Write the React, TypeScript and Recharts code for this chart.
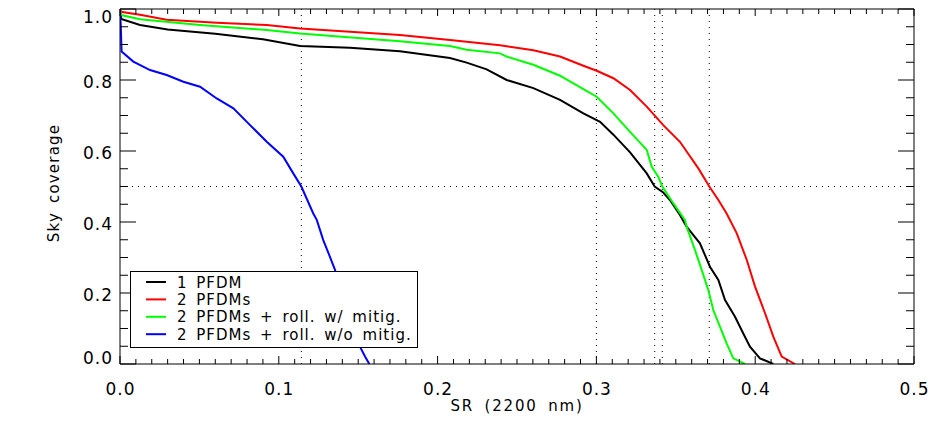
import React from 'react';
import { LineChart, Line, XAxis, YAxis, ReferenceLine, Legend } from 'recharts';

// [SR (2200 nm), sky coverage]
const onePfdm: [number, number][] = [
  [0, 1.0], [0.0008, 0.972], [0.0126, 0.955], [0.03, 0.942], [0.06, 0.93], [0.09, 0.915],
  [0.1134, 0.896], [0.1448, 0.891], [0.1763, 0.881], [0.2078, 0.862], [0.2183, 0.849],
  [0.2309, 0.83], [0.2435, 0.8], [0.2603, 0.777], [0.2771, 0.744], [0.2918, 0.706],
  [0.3023, 0.682], [0.3107, 0.646], [0.3212, 0.596], [0.3317, 0.537], [0.3367, 0.5],
  [0.3421, 0.483], [0.3463, 0.462], [0.3526, 0.42], [0.3568, 0.387], [0.3652, 0.34],
  [0.3715, 0.274], [0.3768, 0.237], [0.381, 0.18], [0.3873, 0.133], [0.3925, 0.086],
  [0.3967, 0.049], [0.403, 0.016], [0.4114, 0],
];
const twoPfdms: [number, number][] = [
  [0, 1.0], [0.0005, 0.992], [0.0126, 0.984], [0.0294, 0.97], [0.0609, 0.961], [0.0924, 0.955],
  [0.1134, 0.945], [0.1763, 0.927], [0.2078, 0.913], [0.2393, 0.898], [0.2603, 0.884],
  [0.2771, 0.866], [0.2918, 0.84], [0.3002, 0.826], [0.3107, 0.805], [0.3212, 0.772],
  [0.3317, 0.725], [0.3421, 0.673], [0.3526, 0.626], [0.3642, 0.551], [0.3711, 0.5],
  [0.3768, 0.462], [0.382, 0.424], [0.3884, 0.368], [0.3947, 0.293], [0.3999, 0.218],
  [0.4062, 0.143], [0.4114, 0.077], [0.4167, 0.021], [0.425, 0],
];
const rollMitig: [number, number][] = [
  [0, 0.995], [0.0008, 0.983], [0.0126, 0.971], [0.0504, 0.955], [0.0924, 0.941], [0.1134, 0.931],
  [0.1763, 0.909], [0.2078, 0.896], [0.2183, 0.885], [0.2393, 0.875], [0.2435, 0.866],
  [0.2603, 0.843], [0.2771, 0.812], [0.2918, 0.774], [0.3002, 0.753], [0.3107, 0.706],
  [0.3212, 0.654], [0.3317, 0.603], [0.3348, 0.556], [0.339, 0.527], [0.3415, 0.5],
  [0.3484, 0.453], [0.3558, 0.405], [0.3568, 0.387], [0.3621, 0.321], [0.3663, 0.265],
  [0.3705, 0.208], [0.3736, 0.152], [0.3778, 0.105], [0.382, 0.058], [0.3862, 0.016], [0.3936, 0],
];
const rollNoMitig: [number, number][] = [
  [0, 1.0], [0.0005, 0.95], [0.001, 0.88], [0.0084, 0.852], [0.0189, 0.828], [0.0294, 0.814],
  [0.0399, 0.795], [0.0504, 0.781], [0.0609, 0.748], [0.0714, 0.72], [0.0819, 0.673],
  [0.0924, 0.626], [0.1028, 0.584], [0.1091, 0.537], [0.1142, 0.5], [0.1217, 0.424],
  [0.1239, 0.406], [0.128, 0.349], [0.1322, 0.302], [0.1354, 0.265], [0.1435, 0.15],
  [0.1511, 0.049], [0.1543, 0.021], [0.157, 0],
];

const seriesNames = ['1 PFDM', '2 PFDMs', '2 PFDMs + roll. w/ mitig.', '2 PFDMs + roll. w/o mitig.'];
const seriesColors = ['#000000', '#ff0000', '#00ff00', '#0000ff'];
const seriesData = [onePfdm, twoPfdms, rollMitig, rollNoMitig];

const crossingSR = [0.1142, 0.3, 0.3367, 0.3415, 0.3711];
const crossingCov = [0.5];

const xTicks = Array.from({ length: 51 }, (_, i) => i / 100);
const yTicks = Array.from({ length: 21 }, (_, i) => i / 20);

const FONT = "'DejaVu Sans', sans-serif";

const isMajorX = (v: number) => Math.abs(v * 10 - Math.round(v * 10)) < 1e-6;
const isMajorY = (v: number) => Math.abs(v * 5 - Math.round(v * 5)) < 1e-6;

const BottomTick = (props: any) => {
  const { x, y, payload } = props;
  const v = payload.value;
  const major = isMajorX(v);
  return (
    <g>
      <line x1={x} x2={x} y1={y} y2={y - (major ? 8 : 5)} stroke="#000" strokeWidth={1} />
      {major && (
        <text x={x + 0.5} y={y + 31} textAnchor="middle" fontFamily={FONT} fontSize={17} letterSpacing={1} fill="#000">
          {v.toFixed(1)}
        </text>
      )}
    </g>
  );
};

const TopTick = (props: any) => {
  const { x, y, payload } = props;
  const major = isMajorX(payload.value);
  return <line x1={x} x2={x} y1={y} y2={y + (major ? 7 : 5)} stroke="#000" strokeWidth={1} />;
};

const LeftTick = (props: any) => {
  const { x, y, payload } = props;
  const v = payload.value;
  const major = isMajorY(v);
  let dy = 8;
  if (v > 0.999) dy = 14;
  if (v < 0.001) dy = -0.5;
  return (
    <g>
      <line x1={x} x2={x + (major ? 16 : 8)} y1={y} y2={y} stroke="#000" strokeWidth={1} />
      {major && (
        <text x={x - 7} y={y + dy} textAnchor="end" fontFamily={FONT} fontSize={17} letterSpacing={1} fill="#000">
          {v.toFixed(1)}
        </text>
      )}
    </g>
  );
};

const RightTick = (props: any) => {
  const { x, y, payload } = props;
  const major = isMajorY(payload.value);
  return <line x1={x} x2={x - (major ? 16 : 8)} y1={y} y2={y} stroke="#000" strokeWidth={1} />;
};

const XTitle = (props: any) => {
  const { viewBox } = props;
  const cx = viewBox.x + viewBox.width / 2;
  return (
    <text x={cx} y={viewBox.y + 47} textAnchor="middle" fontFamily={FONT} fontSize={15} letterSpacing={1.8} wordSpacing={4} fill="#000">
      SR (2200 nm)
    </text>
  );
};

const YTitle = () => {
  const cx = 51;
  const cy = 175;
  return (
    <text x={cx} y={cy} transform={`rotate(-90, ${cx}, ${cy})`} textAnchor="middle" fontFamily={FONT} fontSize={15} letterSpacing={1.2} wordSpacing={3} fill="#000">
      Sky coverage
    </text>
  );
};

const LegendBox = () => (
  <svg width={288} height={77} style={{ display: 'block' }}>
    <rect x={0.5} y={0.5} width={287} height={76} fill="#ffffff" stroke="#000" strokeWidth={1} />
    {seriesNames.map((name, i) => {
      const cy = 11 + i * 17.4;
      return (
        <g key={name}>
          <line x1={16} x2={36} y1={cy} y2={cy} stroke={seriesColors[i]} strokeWidth={2} />
          <text x={47} y={cy + 5.5} fontFamily={FONT} fontSize={15} letterSpacing={1} wordSpacing={3} fill="#000">
            {name}
          </text>
        </g>
      );
    })}
  </svg>
);

export default function App() {
  return (
    <LineChart width={942} height={422} margin={{ top: 0, right: 26, left: 52, bottom: 36 }}>
      <XAxis
        xAxisId="bottom"
        type="number"
        dataKey="sr"
        domain={[0, 0.5]}
        ticks={xTicks}
        interval={0}
        allowDataOverflow
        height={30}
        tickSize={0}
        tickMargin={0}
        tickLine={false}
        axisLine={{ stroke: '#000', strokeWidth: 1 }}
        tick={<BottomTick />}
        label={<XTitle />}
      />
      <XAxis
        xAxisId="top"
        orientation="top"
        type="number"
        dataKey="sr"
        domain={[0, 0.5]}
        ticks={xTicks}
        interval={0}
        allowDataOverflow
        height={1}
        tickSize={0}
        tickMargin={0}
        tickLine={false}
        axisLine={{ stroke: '#000', strokeWidth: 1 }}
        tick={<TopTick />}
      />
      <YAxis
        yAxisId="left"
        type="number"
        domain={[0, 1]}
        ticks={yTicks}
        interval={0}
        allowDataOverflow
        width={60}
        tickSize={0}
        tickMargin={0}
        tickLine={false}
        axisLine={{ stroke: '#000', strokeWidth: 1 }}
        tick={<LeftTick />}
        label={<YTitle />}
      />
      <YAxis
        yAxisId="right"
        orientation="right"
        type="number"
        domain={[0, 1]}
        ticks={yTicks}
        interval={0}
        allowDataOverflow
        width={10}
        tickSize={0}
        tickMargin={0}
        tickLine={false}
        axisLine={{ stroke: '#000', strokeWidth: 1 }}
        tick={<RightTick />}
      />
      {crossingSR.map((v) => (
        <ReferenceLine key={`x${v}`} x={v} xAxisId="bottom" yAxisId="left" stroke="#000" strokeWidth={1} strokeDasharray="1 5" />
      ))}
      {crossingCov.map((v) => (
        <ReferenceLine key={`y${v}`} y={v} xAxisId="bottom" yAxisId="left" stroke="#000" strokeWidth={1} strokeDasharray="1 5" />
      ))}
      {seriesNames.map((name, i) => (
        <Line
          key={name}
          name={name}
          xAxisId="bottom"
          yAxisId="left"
          data={seriesData[i].map(([sr, cov]) => ({ sr, cov }))}
          dataKey="cov"
          type="linear"
          stroke={seriesColors[i]}
          strokeWidth={2}
          dot={false}
          activeDot={false}
          isAnimationActive={false}
        />
      ))}
      <Legend
        layout="vertical"
        align="center"
        verticalAlign="middle"
        content={<LegendBox />}
        wrapperStyle={{ position: 'absolute', left: 122, top: 263, width: 288, height: 77, margin: 0 }}
      />
    </LineChart>
  );
}
